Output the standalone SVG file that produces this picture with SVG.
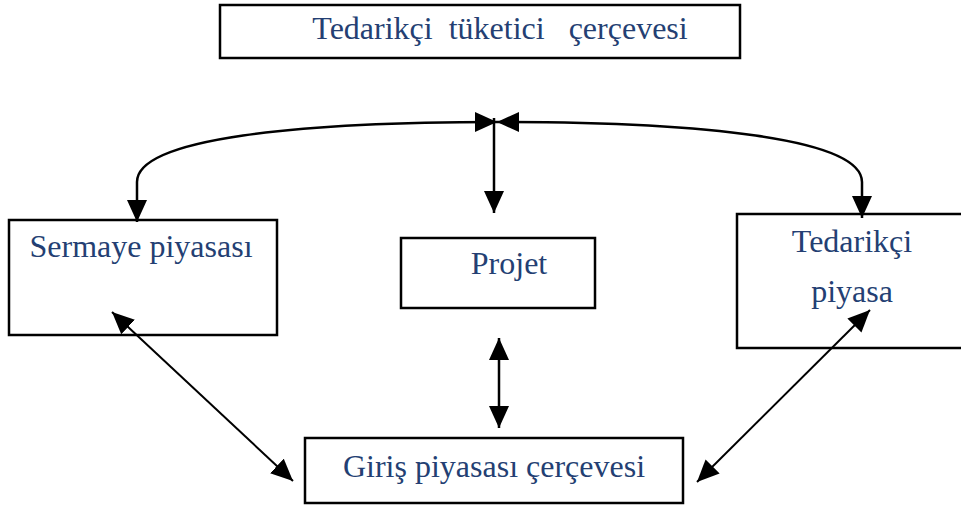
<svg xmlns="http://www.w3.org/2000/svg" width="961" height="508" viewBox="0 0 961 508">
<defs>
<marker id="ah2" viewBox="0 0 10 10" refX="10" refY="5" markerWidth="22" markerHeight="20" markerUnits="userSpaceOnUse" orient="auto-start-reverse" preserveAspectRatio="none">
<path d="M0,0 L10,5 L0,10 Z" fill="#000"/>
</marker>
</defs>
<style>
.box{fill:#fff;stroke:#000;stroke-width:2.5}
.lbl{font-family:"Liberation Serif","Times New Roman",serif;font-size:32px;fill:#243F73;text-anchor:middle}
.c{fill:none;stroke:#000;stroke-width:2.5}
.d{fill:none;stroke:#000;stroke-width:2}
</style>
<rect width="961" height="508" fill="#fff"/>
<g id="top">
<rect class="box" x="220" y="5" width="520" height="53"/>
<text class="lbl" x="500" y="39" xml:space="preserve">Tedarikçi  tüketici   çerçevesi</text>
</g>
<g id="sermaye">
<rect class="box" x="9" y="220" width="268" height="115"/>
<text class="lbl" x="141" y="257">Sermaye piyasası</text>
</g>
<g id="projet">
<rect class="box" x="401" y="238" width="194" height="70"/>
<text class="lbl" x="509" y="274">Projet</text>
</g>
<g id="tedarikci">
<rect class="box" x="737" y="214" width="226" height="134"/>
<text class="lbl" x="852" y="252">Tedarikçi</text>
<text class="lbl" x="852" y="302">piyasa</text>
</g>
<g id="giris">
<rect class="box" x="305" y="438" width="378" height="65"/>
<text class="lbl" x="494" y="477">Giriş piyasası çerçevesi</text>
</g>
<g id="connectors">
<path class="c" d="M497,122 C300,122 137,138 137,182 L137,222" marker-start="url(#ah2)" marker-end="url(#ah2)"/>
<path class="c" d="M497,122 C700,122 862,138 862,182 L862,218" marker-start="url(#ah2)" marker-end="url(#ah2)"/>
<path class="c" d="M494,118 L494,213" marker-end="url(#ah2)"/>
<path class="c" d="M499,338 L499,428" marker-start="url(#ah2)" marker-end="url(#ah2)"/>
<path class="d" d="M112,312 L293,481" marker-start="url(#ah2)" marker-end="url(#ah2)"/>
<path class="d" d="M870,310 L697,482" marker-start="url(#ah2)" marker-end="url(#ah2)"/>
</g>
</svg>
